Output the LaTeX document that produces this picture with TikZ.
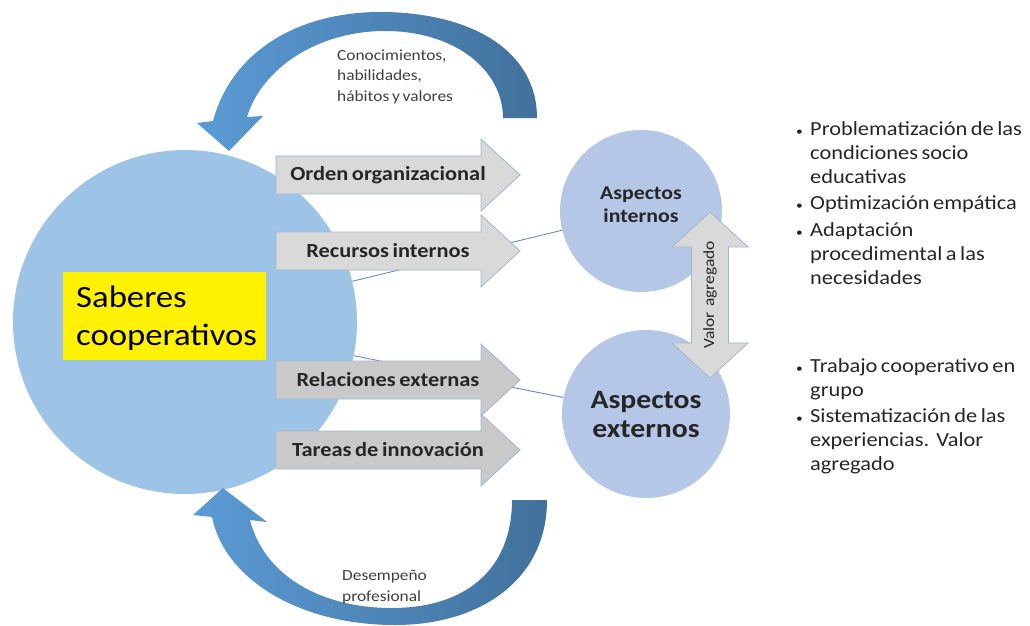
\documentclass[tikz,border=0pt]{standalone}
\usepackage{fontspec}
\setmainfont{Carlito}[FakeStretch=1.12,WordSpace=0.7]
\definecolor{bigblue}{HTML}{9DC3E6}
\definecolor{smallblue}{HTML}{B4C7E7}
\definecolor{grayA}{HTML}{D9D9D9}
\definecolor{grayB}{HTML}{C9C9C9}
\definecolor{edgeblue}{HTML}{A3B6CC}
\definecolor{linkblue}{HTML}{5B8FC7}
\definecolor{arrlight}{HTML}{5B9BD5}
\definecolor{arrdark}{HTML}{41719C}
\definecolor{txt}{HTML}{262626}
\definecolor{txtsoft}{HTML}{404040}
\newcommand{\bul}{\llap{\makebox[14pt][l]{\fontsize{12}{12}\selectfont\textbullet}}}
\begin{document}
\begin{tikzpicture}[x=1pt,y=-1pt,
  bigcirc/.style={circle,fill=bigblue,minimum size=344pt,inner sep=0pt},
  smallcirc/.style={circle,fill=smallblue,inner sep=0pt,align=center,text=txt},
  link/.style={draw=linkblue,line width=0.9pt},
  grayshape/.style={draw=edgeblue,line width=0.8pt},
  arrowtext/.style={font=\fontsize{20}{22}\selectfont\bfseries,text=txt,inner sep=0pt},
  curved/.style={shading=axis,left color=arrlight,right color=arrdark,draw=none},
  smalltext/.style={font=\fontsize{15.5}{20.5}\selectfont,text=txtsoft,align=left,anchor=north west,inner sep=0pt},
  bullets/.style={font=\fontsize{20}{24}\selectfont,text=txt,anchor=north west,inner sep=0pt,align=left}
]
\useasboundingbox (0,0) rectangle (1030,626);

% circles
\node[bigcirc] (big) at (185,322) {};
\node[smallcirc,minimum size=162pt] (ai) at (641,211) {};
\node[align=center,text=txt,inner sep=0pt,font=\fontsize{19.5}{23}\selectfont\bfseries] (ait) at (641,205) {Aspectos\\internos};
\node[smallcirc,minimum size=168pt,font=\fontsize{26.5}{29}\selectfont\bfseries] (ae) at (646,414) {Aspectos\\externos};

% links
\draw[link] (big) -- (ai);
\draw[link] (big) -- (ae);

% gray arrows
\foreach \c/\col/\n/\t in {175/grayA/o/Orden organizacional,251/grayA/r/Recursos internos,380/grayB/e/Relaciones externas,450/grayB/t/Tareas de innovación}{
  \filldraw[grayshape,fill=\col] (276,{\c-19}) -- (481,{\c-19}) -- (481,{\c-36}) -- (520,\c) -- (481,{\c+36}) -- (481,{\c+19}) -- (276,{\c+19}) -- cycle;
  \node[arrowtext] (g\n) at (388,\c) {\t};
}

% yellow box
\node[fill=yellow,minimum width=203pt,minimum height=88pt,anchor=north west,inner sep=0pt] (sab) at (63,272) {};
\node[font=\fontsize{31}{38}\selectfont,text=black,align=left,anchor=north west,inner sep=0pt] (sabt) at (76,280.4) {\strut Saberes\\cooperativos};

% double arrow
\filldraw[grayshape,fill=grayA] (710,212) -- (748,247) -- (728.5,247) -- (728.5,343) -- (748,343) -- (710,378) -- (672,343) -- (691.5,343) -- (691.5,247) -- (672,247) -- cycle;
\node[rotate=90,font=\fontsize{15.5}{17}\selectfont,text=txt,inner sep=0pt] (va) at (710,295) {Valor\ \ agregado};

% curved arrows
\path[curved] (537,118) .. controls (537,50) and (470,12) .. (380,12) .. controls (300,12) and (232,50) .. (213,121)
  -- (197,123) -- (229,151) -- (263,116) -- (247,117)
  .. controls (262,68) and (318,31) .. (385,31) .. controls (455,31) and (503,70) .. (503,118) -- cycle;
\path[curved] (547,500) .. controls (547,580) and (480,625) .. (395,625) .. controls (300,625) and (225,580) .. (212,517)
  -- (193,515) -- (223,488) -- (267,522) -- (250,520)
  .. controls (264,575) and (320,608) .. (392,608) .. controls (465,608) and (512,570) .. (512,500) -- cycle;

% small texts
\node[smalltext] (conoc) at (337,45.6) {\strut Conocimientos,\\habilidades,\\hábitos y valores};
\node[smalltext] (desem) at (342,566) {\strut Desempeño\\profesional};

% bullet lists
\node[bullets] (b1) at (810,118.7) {\bul\strut Problematización de las\\condiciones socio\\educativas};
\node[bullets] (b2) at (810,192.2) {\bul\strut Optimización empática};
\node[bullets] (b3) at (810,219.2) {\bul\strut Adaptación\\procedimental a las\\necesidades};
\node[bullets] (b4) at (810,355.7) {\bul\strut Trabajo cooperativo en\\grupo};
\node[bullets] (b5) at (810,405.7) {\bul\strut Sistematización de las\\experiencias.\ \ Valor\\agregado};
\end{tikzpicture}
\end{document}
